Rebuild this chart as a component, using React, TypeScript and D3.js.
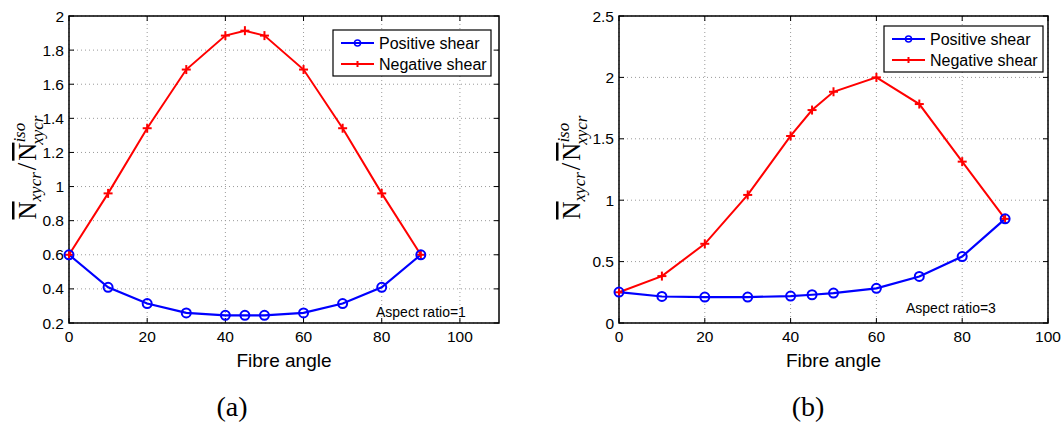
import React from "react";
import * as d3 from "d3";

const anglesA = [0, 10, 20, 30, 40, 45, 50, 60, 70, 80, 90];
const posA = [0.6, 0.409, 0.314, 0.259, 0.245, 0.245, 0.245, 0.259, 0.314, 0.409, 0.6];
const negA = [0.6, 0.96, 1.342, 1.686, 1.885, 1.914, 1.885, 1.686, 1.342, 0.96, 0.6];

const anglesB = [0, 10, 20, 30, 40, 45, 50, 60, 70, 80, 90];
const posB = [0.252, 0.216, 0.211, 0.211, 0.219, 0.23, 0.244, 0.282, 0.379, 0.541, 0.848];
const negB = [0.25, 0.382, 0.645, 1.043, 1.523, 1.734, 1.883, 2.0, 1.783, 1.314, 0.848];

const xTicksA = [0, 20, 40, 60, 80, 100];
const yTicksA = [0.2, 0.4, 0.6, 0.8, 1, 1.2, 1.4, 1.6, 1.8, 2];
const xTicksB = [0, 20, 40, 60, 80, 100];
const yTicksB = [0, 0.5, 1, 1.5, 2, 2.5];

const seriesNames = ["Positive shear", "Negative shear"];

const SANS = "'Liberation Sans', Arial, Helvetica, sans-serif";
const SERIF = "'DejaVu Serif', 'Liberation Serif', serif";
const SERIF2 = "'Liberation Serif', serif";

type PanelProps = {
  left: number; right: number; top: number; bottom: number;
  xDomain: [number, number]; yDomain: [number, number];
  xTicks: number[]; yTicks: number[];
  angles: number[]; pos: number[]; neg: number[];
  legend: { x: number; y: number; w: number; h: number };
  note: { x: number; y: number; text: string };
  ylabelX: number; caption: string; captionX: number;
};

function Panel(p: PanelProps) {
  const x = d3.scaleLinear().domain(p.xDomain).range([p.left, p.right]);
  const y = d3.scaleLinear().domain(p.yDomain).range([p.bottom, p.top]);
  const line = d3.line<[number, number]>().x(d => x(d[0])).y(d => y(d[1]));
  const posPts = p.angles.map((a, i) => [a, p.pos[i]] as [number, number]);
  const negPts = p.angles.map((a, i) => [a, p.neg[i]] as [number, number]);
  const fmt = (v: number) => String(v);
  const tl = 5;
  const midY = (p.top + p.bottom) / 2;
  const midX = (p.left + p.right) / 2;
  const plus = (cx: number, cy: number, s: number, k: string) => (
    <g key={k}>
      <line x1={cx - s} x2={cx + s} y1={cy} y2={cy} stroke="#ff0000" strokeWidth={2} />
      <line x1={cx} x2={cx} y1={cy - s} y2={cy + s} stroke="#ff0000" strokeWidth={2} />
    </g>
  );
  return (
    <g>
      {p.xTicks.map(t => (
        <line key={"gx" + t} x1={x(t)} x2={x(t)} y1={p.top} y2={p.bottom}
          stroke="#9a9a9a" strokeWidth={1} strokeDasharray="1,3" />
      ))}
      {p.yTicks.map(t => (
        <line key={"gy" + t} x1={p.left} x2={p.right} y1={y(t)} y2={y(t)}
          stroke="#9a9a9a" strokeWidth={1} strokeDasharray="1,3" />
      ))}
      {p.xTicks.map(t => (
        <g key={"tx" + t}>
          <line x1={x(t)} x2={x(t)} y1={p.bottom} y2={p.bottom - tl} stroke="#000" />
          <line x1={x(t)} x2={x(t)} y1={p.top} y2={p.top + tl} stroke="#000" />
          <text x={x(t)} y={p.bottom + 19} textAnchor="middle" fontFamily={SANS} fontSize={15.5}>{fmt(t)}</text>
        </g>
      ))}
      {p.yTicks.map(t => (
        <g key={"ty" + t}>
          <line x1={p.left} x2={p.left + tl} y1={y(t)} y2={y(t)} stroke="#000" />
          <line x1={p.right} x2={p.right - tl} y1={y(t)} y2={y(t)} stroke="#000" />
          <text x={p.left - 5} y={y(t) + 5.5} textAnchor="end" fontFamily={SANS} fontSize={15.5}>{fmt(t)}</text>
        </g>
      ))}
      <rect x={p.left} y={p.top} width={p.right - p.left} height={p.bottom - p.top}
        fill="none" stroke="#000" strokeWidth={1.5} />
      <path d={line(negPts) || ""} fill="none" stroke="#ff0000" strokeWidth={2} />
      <path d={line(posPts) || ""} fill="none" stroke="#0000ff" strokeWidth={2.2} />
      {negPts.map((d, i) => plus(x(d[0]), y(d[1]), 4.5, "n" + i))}
      {posPts.map((d, i) => (
        <circle key={"c" + i} cx={x(d[0])} cy={y(d[1])} r={4.5} fill="none" stroke="#0000ff" strokeWidth={2} />
      ))}
      <rect x={p.legend.x} y={p.legend.y} width={p.legend.w} height={p.legend.h}
        fill="#fff" stroke="#000" strokeWidth={1.2} />
      {seriesNames.map((name, i) => {
        const ly = p.legend.y + 13 + i * 21;
        const lx = p.legend.x + 8;
        return (
          <g key={name}>
            <line x1={lx} x2={lx + 33} y1={ly} y2={ly} stroke={i === 0 ? "#0000ff" : "#ff0000"} strokeWidth={2} />
            {i === 0
              ? <circle cx={lx + 16.5} cy={ly} r={3} fill="none" stroke="#0000ff" strokeWidth={1.5} />
              : plus(lx + 16.5, ly, 3, "lp")}
            <text x={lx + 38} y={ly + 5.5} fontFamily={SANS} fontSize={16}>{name}</text>
          </g>
        );
      })}
      <text x={p.note.x} y={p.note.y} fontFamily={SANS} fontSize={14}>{p.note.text}</text>
      <text x={midX} y={p.bottom + 44} textAnchor="middle" fontFamily={SANS} fontSize={19}>Fibre angle</text>
      <g transform={`translate(${p.ylabelX},${midY - 2}) rotate(-90)`}>
        <text textAnchor="middle" fontFamily={SERIF2} fontSize={25}>
          <tspan style={{ textDecoration: "overline" }}>N</tspan>
          <tspan fontStyle="italic" fontSize={17} dy={5}>xycr</tspan>
          <tspan dy={-5} dx={2} fontSize={27}>/</tspan>
          <tspan dx={2} style={{ textDecoration: "overline" }}>N</tspan>
          <tspan fontStyle="italic" fontSize={17} dy={-11}>iso</tspan>
          <tspan fontStyle="italic" fontSize={17} dy={18} dx={-22}>xycr</tspan>
        </text>
      </g>
      <text x={p.captionX} y={p.bottom + 93} textAnchor="middle" fontFamily={SERIF2} fontSize={28}>{p.caption}</text>
    </g>
  );
}

export default function App() {
  return (
    <svg width={1061} height={425} style={{ position: "absolute", left: 0, top: 0, background: "#fff" }}>
      <Panel left={69} right={499} top={16} bottom={323}
        xDomain={[0, 110]} yDomain={[0.2, 2]}
        xTicks={xTicksA} yTicks={yTicksA}
        angles={anglesA} pos={posA} neg={negA}
        legend={{ x: 333, y: 30, w: 158, h: 46 }}
        note={{ x: 376, y: 317, text: "Aspect ratio=1" }}
        ylabelX={36} caption="(a)" captionX={232} />
      <Panel left={619} right={1048} top={16} bottom={323}
        xDomain={[0, 100]} yDomain={[0, 2.5]}
        xTicks={xTicksB} yTicks={yTicksB}
        angles={anglesB} pos={posB} neg={negB}
        legend={{ x: 884, y: 26, w: 159, h: 46 }}
        note={{ x: 906, y: 313, text: "Aspect ratio=3" }}
        ylabelX={580} caption="(b)" captionX={808} />
    </svg>
  );
}
